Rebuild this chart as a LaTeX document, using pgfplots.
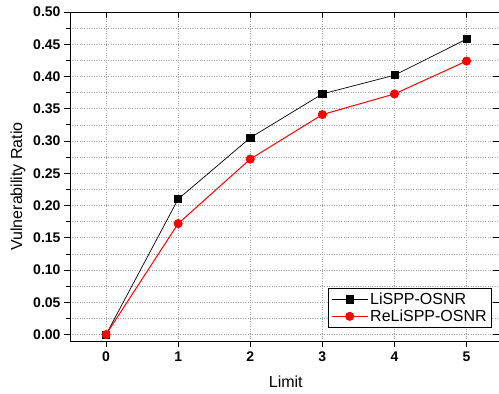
\documentclass[border=0pt]{standalone}
\usepackage{fontspec}
\setmainfont{Liberation Sans}
\usepackage{pgfplots}
\pgfplotsset{compat=1.18}
\begin{document}
\begin{tikzpicture}
\begin{axis}[
  name=main,
  scale only axis, width=429pt, height=329pt,
  xmin=-0.5, xmax=5.45, ymin=-0.01, ymax=0.5,
  xtick={0,1,2,3,4,5}, ytick={0,0.05,...,0.51},
  minor y tick num=1,
  xtick pos=bottom, ytick pos=left, tick align=outside,
  major tick length=6pt, minor tick length=3.5pt,
  axis line style={line width=0.9pt},
  tick style={line width=0.8pt, black},
  xmajorgrids, ymajorgrids, yminorgrids,
  major grid style={gray!70, dotted, line width=0.6pt},
  minor grid style={gray!70, dotted, line width=0.6pt},
  /pgf/number format/assume math mode=true,
  yticklabel style={/pgf/number format/.cd, fixed, fixed zerofill, precision=2},
  ticklabel style={font=\fontsize{14}{16}\selectfont\bfseries},
  xticklabel style={yshift=-1pt},
  xlabel={Limit}, ylabel={Vulnerability Ratio},
  label style={font=\fontsize{16}{18}\selectfont},
  xlabel style={at={(axis description cs:0.503,-0.125)}, anchor=center},
  ylabel style={at={(axis description cs:-0.121,0.47)}, anchor=center},
  legend style={at={(axis description cs:0.984,0.04)}, anchor=south east,
    font=\fontsize{16}{18}\selectfont, draw=black, line width=0.9pt,
    inner xsep=3pt, inner ysep=2.5pt, row sep=0pt, cells={anchor=west}},
  legend image code/.code={
    \draw[#1] (0pt,0pt) -- (36pt,0pt);
    \draw[#1, mark repeat=2, mark phase=2] plot coordinates {(0pt,0pt) (18pt,0pt) (36pt,0pt)};
  },
]
\addplot[black, line width=0.7pt, mark=square*, mark size=3.6pt, mark options={solid, fill=black}]
  coordinates {(0,0) (1,0.210) (2,0.305) (3,0.373) (4,0.402) (5,0.458)};
\addlegendentry{LiSPP-OSNR}
\addplot[red, line width=1pt, mark=*, mark size=4pt, mark options={solid, fill=red}]
  coordinates {(0,0) (1,0.172) (2,0.272) (3,0.341) (4,0.373) (5,0.424)};
\addlegendentry{ReLiSPP-OSNR}
\end{axis}
\begin{axis}[
  scale only axis, width=429pt, height=329pt,
  xmin=-0.5, xmax=5.45, ymin=-0.01, ymax=0.5,
  xtick={0,1,2,3,4,5}, ytick={0,0.05,...,0.51},
  xtick pos=top, ytick pos=right, tick align=inside,
  major tick length=6pt,
  tick style={line width=0.8pt, black},
  axis line style={draw=none},
  xticklabels={}, yticklabels={},
]
\end{axis}
\pgfresetboundingbox
\path[use as bounding box] (-70pt,-53pt) rectangle (429pt,341pt);
\end{tikzpicture}
\end{document}
